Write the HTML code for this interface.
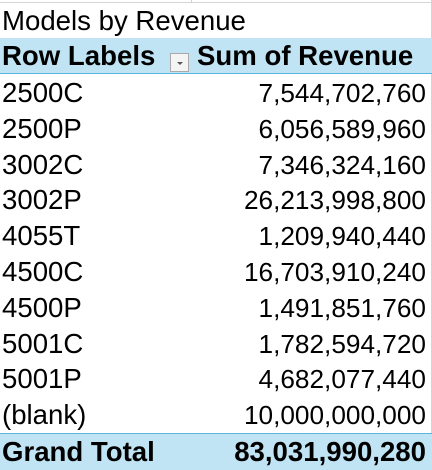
<!DOCTYPE html>
<html><head><style>
body{margin:0;width:432px;height:470px;overflow:hidden;background:#fff;font-family:"Liberation Sans",Arial,sans-serif;color:#000;position:relative}
.row{position:absolute;left:0;width:432px;height:36px;font-size:27.6px;line-height:36px}
.l{position:absolute;left:2px}
.r{position:absolute;right:6px}
.n{font-size:26.2px}
.b{font-weight:bold}
.hdr{background:#c0e4f4}
</style></head><body>
<div style="position:absolute;left:0;top:2px;width:432px;height:1px;background:#d4d4d4"></div>
<div style="position:absolute;left:191px;top:0;width:1px;height:3px;background:#d4d4d4"></div>
<div style="position:absolute;left:431px;top:0;width:1px;height:470px;background:#d4d4d4"></div>
<div class="row" style="top:3px"><span class="l">Models by Revenue</span></div>
<div class="row hdr b" style="top:38px;border-bottom:1px solid #5bb4e0;height:35px">
<span class="l">Row Labels</span>
<span style="position:absolute;left:170px;top:15px;width:19px;height:19px;border:1px solid #aaa;background:#f4f4f4;box-sizing:border-box"><span style="position:absolute;left:6px;top:8px;border-left:3px solid transparent;border-right:3px solid transparent;border-top:3px solid #555"></span></span>
<span style="position:absolute;left:197px">Sum of Revenue</span></div>
<div id="rows"></div>
<div class="row hdr b" style="top:433px;height:37px;border-top:1px solid #5bb4e0;box-sizing:border-box;line-height:36px">
<span class="l">Grand Total</span><span class="r">83,031,990,280</span></div>
<script>
const labels=["2500C","2500P","3002C","3002P","4055T","4500C","4500P","5001C","5001P","(blank)"];
const values=["7,544,702,760","6,056,589,960","7,346,324,160","26,213,998,800","1,209,940,440","16,703,910,240","1,491,851,760","1,782,594,720","4,682,077,440","10,000,000,000"];
const c=document.getElementById('rows');
labels.forEach((lb,i)=>{
 const d=document.createElement('div');d.className='row';d.style.top=(75+i*35.8)+'px';
 
 
 d.innerHTML='<span class="l">'+lb+'</span><span class="r n">'+values[i]+'</span>';
 c.appendChild(d);
});
</script>
</body></html>
